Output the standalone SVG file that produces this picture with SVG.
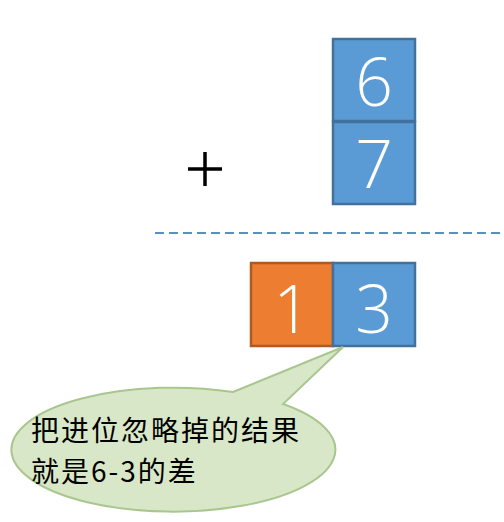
<svg xmlns="http://www.w3.org/2000/svg" width="504" height="522" viewBox="0 0 504 522">
<style>
.blue{fill:#5b9bd5;stroke:#41719c;stroke-width:2.5}
.orange{fill:#ed7d31;stroke:#ae5a21;stroke-width:2.5}
.num{font-family:"Open Sans","Liberation Sans",sans-serif;font-weight:300;font-size:66px;fill:#ffffff;text-anchor:middle}
.cjk{font-family:"Noto Sans CJK SC",sans-serif;font-size:28px;letter-spacing:2px;fill:#000000}
</style>
<rect width="504" height="522" fill="#ffffff"/>
<g id="digit6"><rect class="blue" x="333" y="39" width="82" height="82"/><text class="num" x="374" y="106">6</text></g>
<g id="digit7"><rect class="blue" x="333" y="122" width="82" height="82"/><text class="num" x="374" y="188">7</text></g>
<g id="plus"><path d="M188 169H222M205 152V186" stroke="#000" stroke-width="3.5" fill="none"/></g>
<g id="connectors"><line x1="155" y1="233" x2="504" y2="233" stroke="#5b8fc0" stroke-width="2" stroke-dasharray="9,5"/></g>
<g id="digit1"><rect class="orange" x="251" y="263" width="82" height="83"/><text class="num" x="292" y="333">1</text></g>
<g id="digit3"><rect class="blue" x="333" y="263" width="82" height="83"/><text class="num" x="374" y="333">3</text></g>
<g id="callout">
<path d="M233 392 L343 347 L283 404 A162 62 0 1 1 233 392 Z" fill="#d8e7c8" stroke="#a9c68f" stroke-width="2"/>
<text class="cjk" x="31" y="441">把进位忽略掉的结果</text>
<text class="cjk" x="31" y="482">就是6-3的差</text>
</g>
</svg>
